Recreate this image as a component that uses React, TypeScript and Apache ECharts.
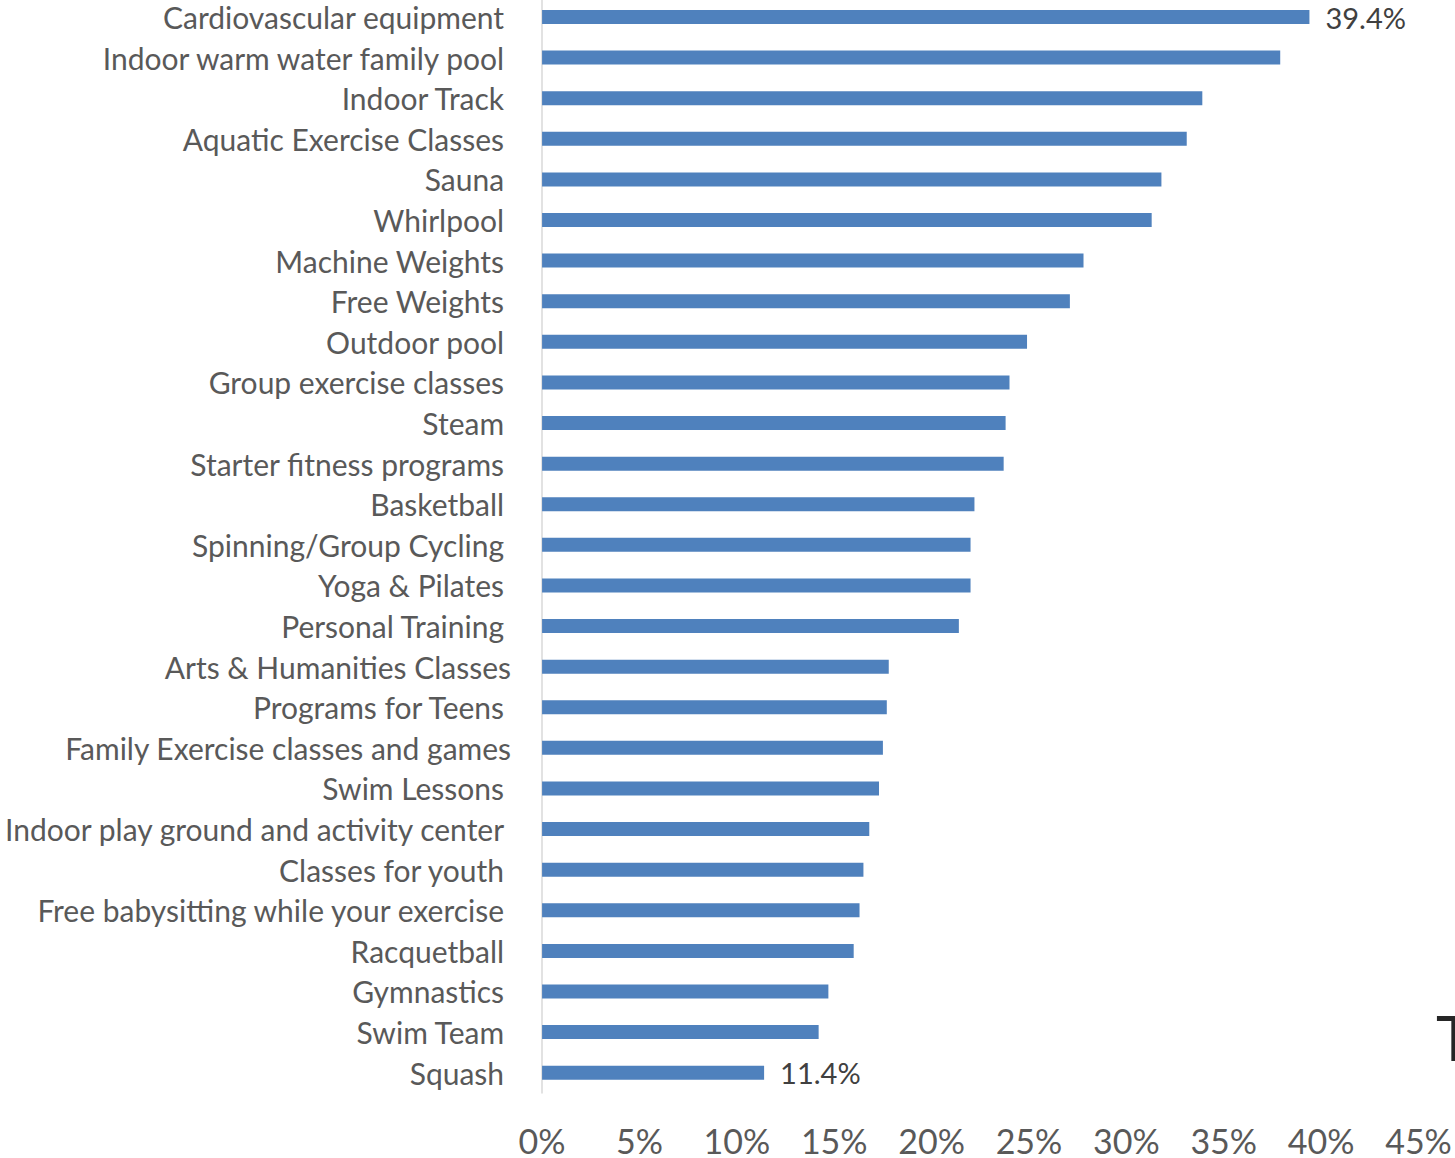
import React, { useEffect, useRef } from "react";
import * as echarts from "echarts";

const categories = [
  "Cardiovascular equipment",
  "Indoor warm water family pool",
  "Indoor Track",
  "Aquatic Exercise Classes",
  "Sauna",
  "Whirlpool",
  "Machine Weights",
  "Free Weights",
  "Outdoor pool",
  "Group exercise classes",
  "Steam",
  "Starter fitness programs",
  "Basketball",
  "Spinning/Group Cycling",
  "Yoga & Pilates",
  "Personal Training",
  "Arts & Humanities Classes",
  "Programs for Teens",
  "Family Exercise classes and games",
  "Swim Lessons",
  "Indoor play ground and activity center",
  "Classes for youth",
  "Free babysitting while your exercise",
  "Racquetball",
  "Gymnastics",
  "Swim Team",
  "Squash",
];

const values = [
  39.4, 37.9, 33.9, 33.1, 31.8, 31.3, 27.8, 27.1, 24.9, 24.0, 23.8, 23.7, 22.2,
  22.0, 22.0, 21.4, 17.8, 17.7, 17.5, 17.3, 16.8, 16.5, 16.3, 16.0, 14.7, 14.2,
  11.4,
];

const labelledIndices = [0, 26];

// categories whose label has no trailing space in the original
const flushLabels = ["Arts & Humanities Classes", "Family Exercise classes and games"];

const xTicks = [0, 5, 10, 15, 20, 25, 30, 35, 40, 45];

const FONT = "Lato";

export default function App() {
  const ref = useRef<HTMLDivElement>(null);
  useEffect(() => {
    if (!ref.current) return;
    const chart = echarts.init(ref.current, null, { renderer: "svg" });
    chart.setOption({
      animation: false,
      backgroundColor: "#ffffff",
      grid: { left: 541, right: 36.5, top: 0.7, bottom: 65, containLabel: false },
      xAxis: {
        type: "value",
        min: xTicks[0],
        max: xTicks[xTicks.length - 1],
        interval: 5,
        axisLine: { show: false },
        axisTick: { show: false },
        splitLine: { show: false },
        axisLabel: {
          formatter: (v: number) => v + "%",
          color: "#595959",
          fontFamily: FONT,
          fontSize: 34,
          margin: 30,
        },
      },
      yAxis: {
        type: "category",
        inverse: true,
        data: categories.map((c) => ({
          value: c,
          textStyle: { padding: flushLabels.includes(c) ? [0, 0, 0, 0] : [0, 7, 0, 0] },
        })),
        axisLine: { show: true, lineStyle: { color: "#d9d9d9", width: 1.5 } },
        axisTick: { show: false },
        axisLabel: {
          color: "#595959",
          fontFamily: FONT,
          fontSize: 30,
          margin: 31,
        },
      },
      series: [
        {
          type: "bar",
          data: values.map((v, i) => ({
            value: v,
            label: {
              show: labelledIndices.includes(i),
              position: "right",
              distance: 16,
              formatter: (p: any) => p.value.toFixed(1) + "%",
              color: "#404040",
              fontFamily: FONT,
              fontSize: 29,
            },
          })),
          barWidth: 14,
          itemStyle: { color: "#4f81bd" },
          silent: true,
        },
      ],
      graphic: [
        {
          type: "text",
          left: 1436,
          top: 1010,
          style: {
            text: "T",
            fontFamily: FONT,
            fontSize: 62,
            fill: "#262626",
          },
        },
      ],
    });
    return () => chart.dispose();
  }, []);
  return (
    <div
      ref={ref}
      style={{ position: "fixed", left: 0, top: -4, width: 1455, height: 1162 }}
    />
  );
}
